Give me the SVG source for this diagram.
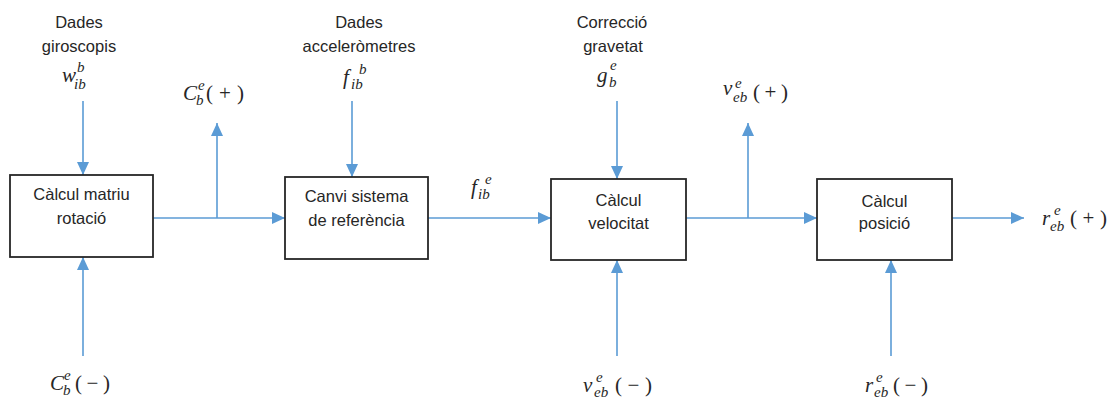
<svg xmlns="http://www.w3.org/2000/svg" width="1115" height="398" viewBox="0 0 1115 398">
<style>
.box{fill:#fff;stroke:#262626;stroke-width:1.8}
.t{font-family:"Liberation Sans",Arial,sans-serif;font-size:16.5px;fill:#262626;text-anchor:middle}
.c{fill:none;stroke:#5B9BD5;stroke-width:1.6;marker-end:url(#ah)}
.m{font-family:"Liberation Serif","Times New Roman",serif;font-style:italic;font-size:21px;fill:#262626}
.s{font-family:"Liberation Serif","Times New Roman",serif;font-style:italic;font-size:15px;fill:#262626}
.p{font-family:"Liberation Serif","Times New Roman",serif;font-size:21px;fill:#262626}
</style>
<defs>
<marker id="ah" markerUnits="userSpaceOnUse" markerWidth="13" markerHeight="12" refX="13" refY="6" orient="auto">
<path d="M0,0 L13,6 L0,12 Z" fill="#5B9BD5"/>
</marker>
</defs>

<g id="connectors">
<path class="c" d="M83,101 V175"/>
<path class="c" d="M83,356 V257"/>
<path class="c" d="M153,218 H285"/>
<path class="c" d="M217,218 V123"/>
<path class="c" d="M352,101 V177"/>
<path class="c" d="M428,218 H551"/>
<path class="c" d="M617,101 V179"/>
<path class="c" d="M617,356 V260"/>
<path class="c" d="M686,218 H817"/>
<path class="c" d="M748,218 V123"/>
<path class="c" d="M952,218 H1024"/>
<path class="c" d="M891,356 V260"/>
</g>

<g id="node-matriu">
<rect class="box" x="10" y="175" width="143" height="82"/>
<text class="t" x="81.5" y="200">Càlcul matriu</text>
<text class="t" x="81.5" y="224">rotació</text>
</g>
<g id="node-canvi">
<rect class="box" x="285" y="177" width="143" height="82"/>
<text class="t" x="356.5" y="202">Canvi sistema</text>
<text class="t" x="356.5" y="226">de referència</text>
</g>
<g id="node-velocitat">
<rect class="box" x="551" y="179" width="135" height="81"/>
<text class="t" x="618.5" y="206">Càlcul</text>
<text class="t" x="618.5" y="229">velocitat</text>
</g>
<g id="node-posicio">
<rect class="box" x="817" y="179" width="135" height="81"/>
<text class="t" x="884.5" y="207">Càlcul</text>
<text class="t" x="884.5" y="229">posició</text>
</g>

<g id="label-giroscopis">
<text class="t" x="79" y="28">Dades</text>
<text class="t" x="79" y="52">giroscopis</text>
<text class="m" x="62" y="82">w</text>
<text class="s" x="74" y="89">ib</text>
<text class="s" x="77" y="72">b</text>
</g>
<g id="label-accel">
<text class="t" x="359" y="28">Dades</text>
<text class="t" x="359" y="52">acceleròmetres</text>
<text class="m" x="343" y="84">f</text>
<text class="s" x="351" y="89">ib</text>
<text class="s" x="359" y="74">b</text>
</g>
<g id="label-gravetat">
<text class="t" x="612" y="28">Correcció</text>
<text class="t" x="613" y="52">gravetat</text>
<text class="m" x="597" y="82">g</text>
<text class="s" x="609" y="87">b</text>
<text class="s" x="610" y="70">e</text>
</g>
<g id="label-Cplus">
<text class="m" x="183" y="100">C</text>
<text class="s" x="196" y="105">b</text>
<text class="s" x="198" y="90">e</text>
<text class="p" x="206" y="100" textLength="38" lengthAdjust="spacing">(+)</text>
</g>
<g id="label-fie">
<text class="m" x="471" y="194">f</text>
<text class="s" x="478" y="199">ib</text>
<text class="s" x="485" y="184">e</text>
</g>
<g id="label-vplus">
<text class="m" x="723" y="95">v</text>
<text class="s" x="733" y="102">eb</text>
<text class="s" x="735" y="88">e</text>
<text class="p" x="753" y="99" textLength="35" lengthAdjust="spacing">(+)</text>
</g>
<g id="label-rplus">
<text class="m" x="1042" y="225">r</text>
<text class="s" x="1050" y="231">eb</text>
<text class="s" x="1054" y="215">e</text>
<text class="p" x="1070" y="225" textLength="37" lengthAdjust="spacing">(+)</text>
</g>
<g id="label-Cminus">
<text class="m" x="50" y="390">C</text>
<text class="s" x="63" y="395">b</text>
<text class="s" x="64" y="380">e</text>
<text class="p" x="75" y="390" textLength="35" lengthAdjust="spacing">(−)</text>
</g>
<g id="label-vminus">
<text class="m" x="583" y="392">v</text>
<text class="s" x="594" y="397">eb</text>
<text class="s" x="596" y="382">e</text>
<text class="p" x="615" y="392" textLength="37" lengthAdjust="spacing">(−)</text>
</g>
<g id="label-rminus">
<text class="m" x="865" y="392">r</text>
<text class="s" x="874" y="397">eb</text>
<text class="s" x="876" y="382">e</text>
<text class="p" x="893" y="392" textLength="35" lengthAdjust="spacing">(−)</text>
</g>
</svg>
